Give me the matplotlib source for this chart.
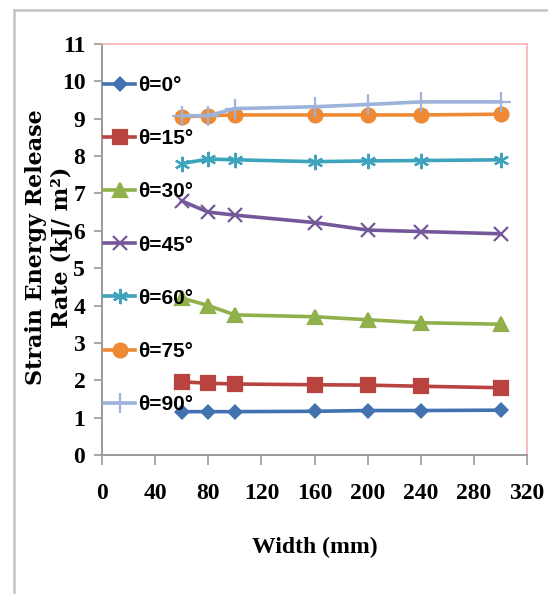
import matplotlib
matplotlib.use('Agg')
import matplotlib.pyplot as plt
from matplotlib.lines import Line2D

# data
widths = [60, 80, 100, 160, 200, 240, 300]
angles = ['θ=0°', 'θ=15°', 'θ=30°', 'θ=45°', 'θ=60°', 'θ=75°', 'θ=90°']
g_0 = [1.16, 1.16, 1.16, 1.17, 1.19, 1.19, 1.2]
g_15 = [1.96, 1.92, 1.9, 1.88, 1.87, 1.84, 1.8]
g_30 = [4.2, 4.0, 3.75, 3.7, 3.62, 3.54, 3.5]
g_45 = [6.8, 6.5, 6.42, 6.22, 6.02, 5.98, 5.92]
g_60 = [7.8, 7.92, 7.9, 7.85, 7.87, 7.88, 7.9]
g_75 = [9.05, 9.08, 9.1, 9.1, 9.1, 9.1, 9.12]
g_90 = [9.08, 9.08, 9.27, 9.32, 9.38, 9.45, 9.45]

series = [g_0, g_15, g_30, g_45, g_60, g_75, g_90]
colors = ['#4272B0', '#B8433F', '#8FB04A', '#74589A', '#3EA3BC', '#EE8A35', '#9DB3DA']
markers = ['D', 's', '^', 'x', (6, 2, 0), 'o', '+']
msizes = [8, 10, 10, 10, 11, 10, 14]

fig = plt.figure(figsize=(5.48, 5.94), dpi=100)
ax = fig.add_axes([0.186, 0.234, 0.776, 0.692])

for vals, lab, c, m, ms in zip(series, angles, colors, markers, msizes):
    if m == 'D':
        ax.plot(widths, vals, color=c, lw=2.6, marker=m, ms=ms, label=lab,
                markeredgewidth=0, markerfacecolor=c)
        continue
    ax.plot(widths, vals, color=c, lw=2.6, marker=m, ms=ms, label=lab,
            markeredgewidth=1.6, markeredgecolor=c, markerfacecolor=c)

ax.set_xlim(0, 320)
ax.set_ylim(0, 11)
ax.set_xticks(range(0, 321, 40))
ax.set_yticks(range(0, 12))

tick_font = dict(family='Liberation Serif', weight='bold', size=17)
ax.set_xticklabels([str(v) for v in range(0, 321, 40)], fontdict=tick_font)
ax.set_yticklabels([str(v) for v in range(0, 12)], fontdict=tick_font)
ax.tick_params(axis='x', direction='out', length=7, width=1.2, color='#999999', pad=13)
ax.tick_params(axis='y', direction='out', length=6, width=1.2, color='#999999', pad=6)

for s in ['left', 'bottom']:
    ax.spines[s].set_color('#999999')
    ax.spines[s].set_linewidth(1.4)
for s in ['top', 'right']:
    ax.spines[s].set_color('#F6B3B3')
    ax.spines[s].set_linewidth(1.2)

ax.set_xlabel('Width (mm)', family='Liberation Serif', weight='bold', size=17)
ax.xaxis.set_label_coords(0.5, -0.2)
ax.set_ylabel('Strain Energy Release\nRate (kJ/ m²)', family='DejaVu Serif',
              weight='bold', size=16, linespacing=1.2)
ax.yaxis.set_label_coords(-0.068, 0.505)

leg = ax.legend(loc='upper left', bbox_to_anchor=(0.19, 0.872), bbox_transform=fig.transFigure,
                frameon=False, borderpad=0, borderaxespad=0, handlelength=1.5,
                handletextpad=0.15, labelspacing=1.64,
                prop=dict(family='Liberation Sans', weight='bold', size=15))

# outer frame of the picture
fig.add_artist(Line2D([14 / 548, 1], [1 - 10 / 594, 1 - 10 / 594], transform=fig.transFigure,
                      color='#C4C4C4', lw=1.8))
fig.add_artist(Line2D([14 / 548, 14 / 548], [0, 1 - 10 / 594], transform=fig.transFigure,
                      color='#C4C4C4', lw=1.8))

fig.savefig('out.png', dpi=100)
